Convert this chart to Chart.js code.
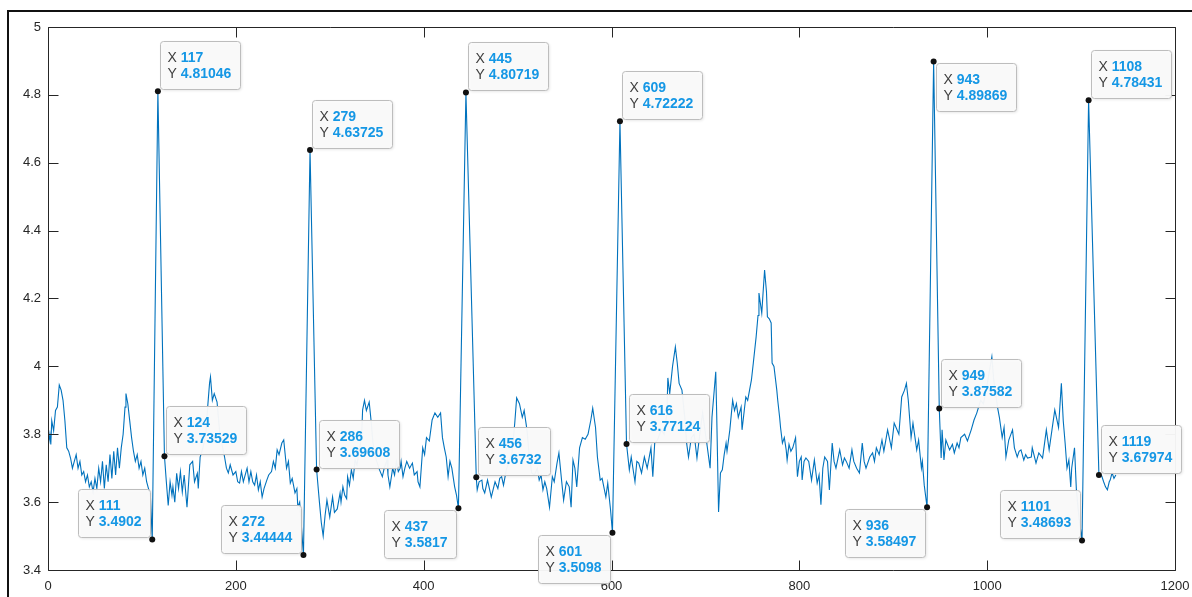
<!DOCTYPE html>
<html>
<head>
<meta charset="utf-8">
<script src="https://cdn.jsdelivr.net/npm/chart.js@4.4.1/dist/chart.umd.min.js"></script>
<style>
  html, body { margin: 0; padding: 0; background: #ffffff; overflow: hidden; }
  #wrap { position: relative; width: 1192px; height: 597px; }
  #frame { position: absolute; left: 7px; top: 10px; width: 1300px; height: 700px;
           border-left: 2px solid #111; border-top: 2px solid #111; pointer-events: none; }
  canvas { position: absolute; left: 0; top: 0; }
</style>
</head>
<body>
<div id="wrap">
  <canvas id="chart" width="1192" height="597"></canvas>
  <div id="frame"></div>
</div>
<script>
// Sample index of each recorded value
const sampleX = [
  0,2,3,4,6,8,10,12,14,16,18,20,22,24,26,28,30,32,34,36,38,40,42,44,46,48,50,52,54,56,58,60,62,64,66,68,70,72,74,76,78,80,82,83,85,87,89,91,93,95,97,99,101,103,105,107,109,
  111,117,124,
  126,128,130,132,133,135,137,139,141,143,145,148,151,154,156,159,160,162,165,168,170,172,173,175,177,180,183,186,188,190,192,194,197,200,202,204,206,208,210,212,214,216,218,220,222,224,226,228,230,233,235,238,240,242,244,246,249,251,254,256,258,260,263,265,266,268,
  272,279,286,
  289,291,293,295,297,300,303,305,308,311,312,314,316,318,319,321,323,325,327,329,332,334,335,337,339,342,344,346,348,350,353,356,358,361,362,364,367,369,371,373,375,376,378,380,382,385,388,390,393,394,396,399,401,403,406,409,412,415,418,420,422,424,426,428,430,433,435,
  437,445,456,
  457,459,462,463,465,468,470,472,476,479,481,483,485,488,491,494,497,499,502,505,507,510,512,515,518,521,523,525,527,529,531,534,537,539,542,544,547,549,552,555,557,559,561,563,566,569,572,575,578,580,583,585,588,590,594,596,599,
  601,609,616,
  619,621,625,627,629,632,635,638,642,644,646,649,653,656,659,660,662,665,668,670,672,675,678,680,682,685,688,691,694,697,701,705,707,711,712,714,716,718,720,722,723,726,729,731,733,735,738,739,743,745,747,749,751,754,756,757,760,761,763,765,766,768,770,771,773,776,777,779,780,782,784,786,787,789,791,793,796,798,800,802,803,805,807,810,813,816,819,821,823,825,827,830,832,835,837,839,843,846,848,850,853,856,858,861,864,867,869,871,875,878,880,882,885,888,890,894,898,901,903,906,909,912,914,916,919,921,925,927,930,931,933,
  936,943,949,
  951,952,954,956,960,963,965,968,970,972,976,979,983,986,989,993,996,999,1002,1005,1007,1011,1013,1016,1018,1020,1023,1027,1029,1032,1034,1036,1039,1041,1043,1047,1048,1052,1055,1059,1063,1066,1069,1072,1076,1079,1081,1083,1085,1087,1089,1090,1093,1095,1096,1098,
  1101,1108,1119,
  1122,1124,1126,1128,1130,1131,1133,1135,1137
];

// Recorded signal level at each sample
const signal = [
  3.76,3.80,3.77,3.84,3.81,3.87,3.88,3.945,3.93,3.90,3.84,3.76,3.75,3.73,3.70,3.72,3.74,3.70,3.72,3.68,3.69,3.66,3.68,3.645,3.66,3.63,3.67,3.64,3.70,3.66,3.72,3.64,3.71,3.66,3.74,3.67,3.75,3.68,3.76,3.70,3.76,3.80,3.88,3.92,3.89,3.84,3.79,3.75,3.72,3.74,3.70,3.72,3.68,3.70,3.66,3.64,3.62,
  3.4902,4.81046,3.73529,
  3.66,3.59,3.66,3.62,3.645,3.60,3.685,3.64,3.69,3.63,3.68,3.585,3.71,3.72,3.66,3.685,3.64,3.733,3.76,3.80,3.88,3.95,3.969,3.90,3.92,3.895,3.80,3.76,3.733,3.70,3.686,3.71,3.68,3.69,3.66,3.656,3.69,3.66,3.68,3.70,3.66,3.69,3.66,3.65,3.68,3.636,3.66,3.615,3.64,3.665,3.68,3.69,3.72,3.70,3.754,3.74,3.774,3.783,3.70,3.72,3.656,3.67,3.627,3.64,3.585,3.60,
  3.44444,4.63725,3.69608,
  3.60,3.54,3.50,3.56,3.606,3.556,3.615,3.57,3.58,3.627,3.60,3.645,3.62,3.61,3.675,3.65,3.695,3.67,3.724,3.71,3.76,3.80,3.872,3.90,3.87,3.895,3.84,3.775,3.74,3.72,3.695,3.675,3.70,3.724,3.68,3.645,3.70,3.68,3.72,3.69,3.70,3.72,3.675,3.70,3.72,3.70,3.715,3.68,3.69,3.66,3.645,3.76,3.74,3.79,3.78,3.842,3.863,3.85,3.863,3.79,3.76,3.733,3.675,3.72,3.70,3.645,3.62,
  3.5817,4.80719,3.6732,
  3.636,3.66,3.665,3.64,3.627,3.665,3.64,3.615,3.66,3.64,3.67,3.675,3.65,3.695,3.72,3.745,3.833,3.907,3.89,3.85,3.87,3.813,3.75,3.686,3.68,3.70,3.665,3.68,3.636,3.66,3.64,3.585,3.675,3.66,3.715,3.745,3.66,3.606,3.66,3.645,3.585,3.724,3.70,3.645,3.76,3.79,3.785,3.80,3.842,3.877,3.82,3.733,3.665,3.67,3.615,3.656,3.577,
  3.5098,4.72222,3.77124,
  3.695,3.733,3.66,3.72,3.715,3.686,3.733,3.70,3.76,3.675,3.774,3.783,3.813,3.80,3.863,3.966,3.92,4.00,4.057,4.01,3.95,3.93,3.85,3.774,3.733,3.79,3.80,3.73,3.80,3.863,3.783,3.70,3.85,3.984,3.86,3.571,3.686,3.695,3.74,3.774,3.75,3.813,3.90,3.87,3.89,3.85,3.88,3.813,3.91,3.90,3.93,3.96,4.01,4.087,4.15,4.216,4.157,4.20,4.284,4.22,4.146,4.14,4.128,4.01,4.00,3.93,3.90,3.85,3.82,3.774,3.79,3.754,3.724,3.77,3.75,3.76,3.79,3.675,3.72,3.733,3.665,3.72,3.73,3.72,3.665,3.724,3.656,3.68,3.592,3.70,3.733,3.72,3.636,3.774,3.72,3.70,3.754,3.71,3.73,3.72,3.70,3.754,3.72,3.70,3.686,3.774,3.72,3.70,3.733,3.745,3.72,3.76,3.74,3.783,3.75,3.813,3.76,3.833,3.82,3.80,3.91,3.93,3.95,3.90,3.79,3.833,3.754,3.783,3.70,3.72,3.65,
  3.58497,4.89869,3.87582,
  3.73,3.813,3.724,3.783,3.754,3.77,3.745,3.774,3.76,3.79,3.80,3.78,3.813,3.842,3.863,3.90,3.89,3.93,3.98,4.028,3.96,3.88,3.85,3.79,3.82,3.733,3.783,3.813,3.76,3.733,3.75,3.754,3.724,3.74,3.73,3.733,3.76,3.715,3.745,3.73,3.813,3.754,3.813,3.872,3.82,3.95,3.84,3.774,3.70,3.724,3.645,3.70,3.76,3.636,3.606,3.55,
  3.48693,4.78431,3.67974,
  3.677,3.66,3.645,3.636,3.66,3.665,3.686,3.67,3.68
];

// Samples marked with a data tip
const tipX = [111,117,124,272,279,286,437,445,456,601,609,616,936,943,949,1101,1108,1119];

// Axis tick values
const xTickValues = [0,200,400,600,800,1000,1200];
const yTickValues = [3.4,3.6,3.8,4,4.2,4.4,4.6,4.8,5];

const FONT = '"Liberation Sans", Arial, Helvetica, sans-serif';
const AXIS_COLOR = '#262626';

// Corner of the tip box that sits next to its point
const tipSide = {111:'ul',117:'ur',124:'ur',272:'ul',279:'ur',286:'ur',437:'dl',445:'ur',456:'ur',
                 601:'dl',609:'ur',616:'ur',936:'dl',943:'dr',949:'ur',1101:'ul',1108:'ur',1119:'ur'};

const points = sampleX.map((x, i) => ({ x: x, y: signal[i] }));

// Box outline with inward ticks on all four sides
const axesBox = {
  id: 'axesBox',
  afterDatasetsDraw(chart) {
    const { ctx, chartArea: a, scales: { x, y } } = chart;
    const L = Math.round(a.left) + 0.5, R = Math.round(a.right) + 0.5;
    const T = Math.round(a.top) + 0.5, B = Math.round(a.bottom) + 0.5;
    ctx.save();
    ctx.strokeStyle = AXIS_COLOR;
    ctx.lineWidth = 1;
    ctx.beginPath();
    ctx.rect(L, T, R - L, B - T);
    const tl = 10;
    xTickValues.forEach(v => {
      const p = Math.round(x.getPixelForValue(v)) + 0.5;
      ctx.moveTo(p, B); ctx.lineTo(p, B - tl);
      ctx.moveTo(p, T); ctx.lineTo(p, T + tl);
    });
    yTickValues.forEach(v => {
      const p = Math.round(y.getPixelForValue(v)) + 0.5;
      ctx.moveTo(L, p); ctx.lineTo(L + tl, p);
      ctx.moveTo(R, p); ctx.lineTo(R - tl, p);
    });
    ctx.stroke();
    ctx.restore();
  }
};

// Data tips: marker dot plus a two-line X / Y box
const dataTips = {
  id: 'dataTips',
  afterDraw(chart) {
    const { ctx, scales: { x, y } } = chart;
    ctx.save();
    const labFont = '14px ' + FONT;
    const valFont = 'bold 14px ' + FONT;
    tipX.forEach(tx => {
      const idx = sampleX.indexOf(tx);
      const ty = signal[idx];
      const px = x.getPixelForValue(tx);
      const py = y.getPixelForValue(ty);
      const rows = [['X ', String(tx)], ['Y ', String(ty)]];
      let w = 0;
      rows.forEach(r => {
        ctx.font = labFont; const a = ctx.measureText(r[0]).width;
        ctx.font = valFont; const b = ctx.measureText(r[1]).width;
        w = Math.max(w, a + b);
      });
      const bw = Math.round(w + 16), bh = 48;
      const side = tipSide[tx];
      let bx = side[1] === 'r' ? px + 2 : px - 2 - bw;
      let by = side[0] === 'u' ? py - 2 - bh : py + 2;
      bx = Math.round(bx) + 0.5; by = Math.round(by) + 0.5;

      ctx.shadowColor = 'rgba(0,0,0,0.12)';
      ctx.shadowBlur = 3;
      ctx.shadowOffsetX = 1;
      ctx.shadowOffsetY = 1;
      ctx.fillStyle = 'rgba(250,250,250,0.96)';
      ctx.beginPath();
      ctx.roundRect(bx, by, bw, bh, 3);
      ctx.fill();
      ctx.shadowColor = 'transparent';
      ctx.strokeStyle = '#bdbdbd';
      ctx.lineWidth = 1;
      ctx.stroke();

      ctx.textBaseline = 'middle';
      ctx.textAlign = 'left';
      rows.forEach((r, i) => {
        const ly = by + 16.5 + i * 16.5;
        ctx.font = labFont;
        ctx.fillStyle = '#404040';
        ctx.fillText(r[0], bx + 7, ly);
        const off = ctx.measureText(r[0]).width;
        ctx.font = valFont;
        ctx.fillStyle = '#1597e5';
        ctx.fillText(r[1], bx + 7 + off, ly);
      });

      ctx.fillStyle = '#111';
      ctx.beginPath();
      ctx.arc(px, py, 3, 0, Math.PI * 2);
      ctx.fill();
    });
    ctx.restore();
  }
};

new Chart(document.getElementById('chart'), {
  type: 'line',
  data: {
    datasets: [{
      data: points,
      borderColor: '#0072BD',
      borderWidth: 1.1,
      pointRadius: 0,
      tension: 0,
      fill: false
    }]
  },
  options: {
    responsive: false,
    animation: false,
    devicePixelRatio: 1,
    layout: { padding: { left: 0, top: 27, right: 17, bottom: 0 } },
    plugins: { legend: { display: false }, tooltip: { enabled: false } },
    scales: {
      x: {
        type: 'linear',
        min: 0, max: 1200,
        grid: { display: false, drawTicks: false },
        border: { display: false },
        afterBuildTicks: s => { s.ticks = xTickValues.map(v => ({ value: v })); },
        afterFit: s => { s.height = 27; s.paddingLeft = 0; s.paddingRight = 0; },
        ticks: { color: AXIS_COLOR, padding: 9, maxRotation: 0, font: { family: FONT, size: 13 },
                 callback: v => String(v) }
      },
      y: {
        type: 'linear',
        min: 3.4, max: 5,
        grid: { display: false, drawTicks: false },
        border: { display: false },
        afterBuildTicks: s => { s.ticks = yTickValues.map(v => ({ value: v })); },
        afterFit: s => { s.width = 48; s.paddingTop = 0; s.paddingBottom = 0; },
        ticks: { color: AXIS_COLOR, padding: 7, font: { family: FONT, size: 13 },
                 callback: v => String(+Number(v).toFixed(1)) }
      }
    }
  },
  plugins: [axesBox, dataTips]
});
</script>
</body>
</html>
